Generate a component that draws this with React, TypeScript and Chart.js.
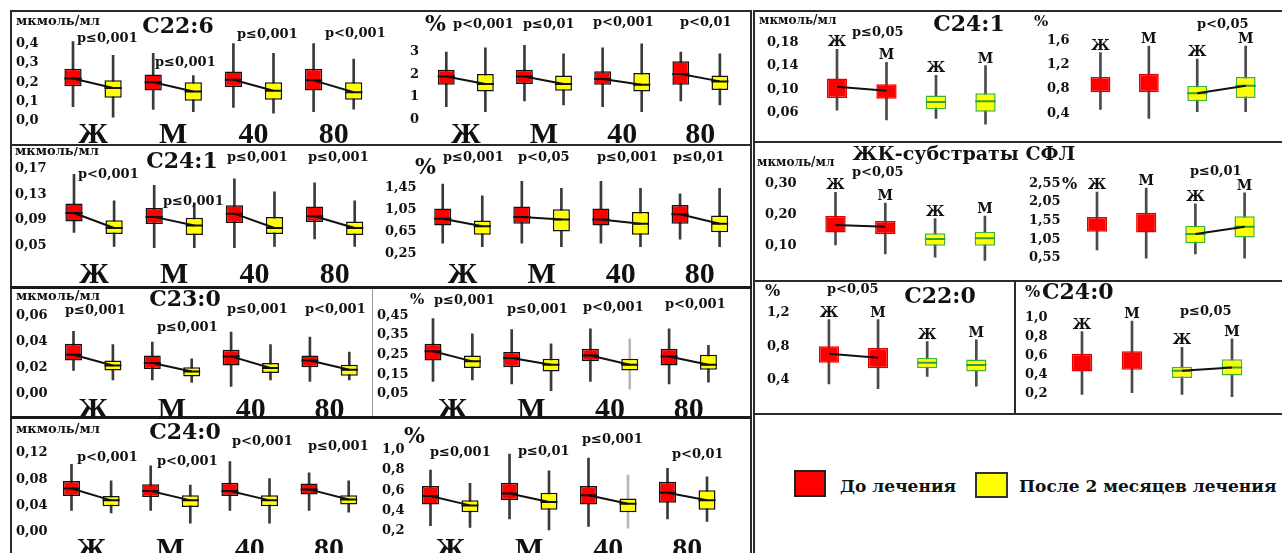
import React, { useEffect, useRef } from "react";
import { Chart, registerables } from "chart.js";

Chart.register(...registerables);

// ---------- categories / labels ----------
const leftGroups = ["Ж", "М", "40", "80"];
const leftSlots = ["Ж до", "Ж после", "М до", "М после", "40 до", "40 после", "80 до", "80 после"];
const leftKinds = ["before", "after", "before", "after", "before", "after", "before", "after"];
const rightSlots = ["Ж до", "М до", "Ж после", "М после"];
const rightSlotLabels = ["Ж", "М", "Ж", "М"];
const rightKinds = ["before", "before", "after", "after"];
const legendLabels = ["До лечения", "После 2 месяцев лечения"];
const unitLabel = "мкмоль/мл";
const pctLabel = "%";
const titleC226 = "C22:6";
const titleC241 = "C24:1";
const titleC230 = "C23:0";
const titleC240 = "C24:0";
const titleSubstr = "ЖК-субстраты СФЛ";
const titleC220 = "C22:0";

// ---------- series: [min, q1, median, q3, max] per slot ----------
const c226Abs = [
  [0.074, 0.18, 0.22, 0.27, 0.41], [0.02, 0.12, 0.17, 0.21, 0.34],
  [0.06, 0.157, 0.2, 0.24, 0.35], [0.048, 0.104, 0.152, 0.2, 0.235],
  [0.07, 0.174, 0.213, 0.256, 0.4], [0.04, 0.109, 0.156, 0.2, 0.35],
  [0.048, 0.157, 0.21, 0.27, 0.4], [0.061, 0.109, 0.148, 0.2, 0.32],
];
const c226Pct = [
  [0.56, 1.54, 1.91, 2.21, 3.0], [0.34, 1.24, 1.57, 2.02, 3.19],
  [0.82, 1.57, 1.91, 2.21, 3.3], [0.64, 1.27, 1.57, 1.95, 2.92],
  [0.56, 1.54, 1.8, 2.14, 3.19], [0.34, 1.24, 1.54, 2.06, 3.37],
  [0.82, 1.54, 2.02, 2.59, 3.0], [0.64, 1.31, 1.69, 1.95, 2.92],
];
const c241Abs = [
  [0.071, 0.088, 0.101, 0.116, 0.161], [0.049, 0.0685, 0.0777, 0.0896, 0.12],
  [0.047, 0.084, 0.095, 0.109, 0.144], [0.047, 0.067, 0.0817, 0.0935, 0.117],
  [0.047, 0.0856, 0.1, 0.113, 0.154], [0.049, 0.0685, 0.0777, 0.0948, 0.134],
  [0.0606, 0.087, 0.096, 0.111, 0.148], [0.049, 0.067, 0.0777, 0.088, 0.12],
];
const c241Pct = [
  [0.435, 0.757, 0.88, 1.065, 1.51], [0.373, 0.588, 0.742, 0.85, 1.296],
  [0.435, 0.79, 0.91, 1.1, 1.56], [0.373, 0.65, 0.865, 1.05, 1.43],
  [0.435, 0.757, 0.865, 1.065, 1.56], [0.373, 0.588, 0.788, 1.0, 1.43],
  [0.51, 0.79, 0.96, 1.127, 1.33], [0.373, 0.635, 0.788, 0.94, 1.43],
];
const c230Abs = [
  [0.0179, 0.0255, 0.03, 0.0383, 0.0479], [0.0108, 0.0179, 0.0217, 0.0255, 0.0377],
  [0.0108, 0.0191, 0.0236, 0.0294, 0.0396], [0.0089, 0.0134, 0.0172, 0.0204, 0.0268],
  [0.0057, 0.0217, 0.0287, 0.0338, 0.0472], [0.0108, 0.016, 0.0198, 0.0236, 0.0377],
  [0.0096, 0.0204, 0.0255, 0.0294, 0.0434], [0.0108, 0.014, 0.0185, 0.0223, 0.0319],
];
const c230Pct = [
  [0.114, 0.22, 0.267, 0.305, 0.433], [0.122, 0.182, 0.216, 0.246, 0.356],
  [0.101, 0.186, 0.233, 0.263, 0.378], [0.067, 0.165, 0.199, 0.229, 0.305],
  [0.114, 0.216, 0.246, 0.28, 0.382], [0.075, 0.17, 0.199, 0.229, 0.33],
  [0.101, 0.195, 0.241, 0.28, 0.382], [0.11, 0.173, 0.199, 0.25, 0.297],
];
const c240Abs = [
  [0.0323, 0.0542, 0.0658, 0.0774, 0.103], [0.0284, 0.0387, 0.0477, 0.0542, 0.0774],
  [0.0323, 0.0529, 0.0619, 0.0723, 0.1006], [0.0129, 0.0374, 0.0477, 0.0555, 0.071],
  [0.0323, 0.0542, 0.0619, 0.0748, 0.107], [0.0129, 0.0387, 0.0477, 0.0555, 0.081],
  [0.0323, 0.0568, 0.0645, 0.0735, 0.09], [0.0297, 0.0413, 0.049, 0.0555, 0.0774],
];
const c240Pct = [
  [0.25, 0.458, 0.542, 0.642, 0.8], [0.233, 0.383, 0.45, 0.5, 0.667],
  [0.317, 0.5, 0.567, 0.675, 0.958], [0.208, 0.408, 0.483, 0.575, 0.792],
  [0.242, 0.458, 0.55, 0.642, 0.917], [0.225, 0.383, 0.467, 0.517, 0.75],
  [0.317, 0.475, 0.575, 0.683, 0.817], [0.292, 0.408, 0.5, 0.6, 0.733],
];
const sexC241Abs = [
  [0.064, 0.085, 0.1046, 0.1186, 0.169], [0.0474, 0.0837, 0.0977, 0.1088, 0.1465],
  [0.05, 0.0656, 0.0781, 0.0893, 0.124], [0.04, 0.0614, 0.0795, 0.0935, 0.141],
];
const sexC241Pct = [
  [0.467, 0.747, 0.85, 1.0, 1.4], [0.32, 0.747, 0.9, 1.053, 1.507],
  [0.427, 0.6, 0.733, 0.853, 1.293], [0.427, 0.653, 0.853, 1.0, 1.507],
];
const sexSubstrAbs = [
  [0.1027, 0.1427, 0.1667, 0.196, 0.273], [0.0733, 0.1373, 0.1613, 0.18, 0.2387],
  [0.0627, 0.1, 0.1213, 0.14, 0.188], [0.052, 0.1, 0.124, 0.1453, 0.196],
];
const sexSubstrPct = [
  [0.77, 1.25, 1.45, 1.65, 2.31], [0.55, 1.23, 1.5, 1.76, 2.42],
  [0.66, 0.946, 1.19, 1.41, 2.0], [0.55, 1.1, 1.385, 1.67, 2.29],
];
const sexC220Pct = [
  [0.351, 0.605, 0.712, 0.8, 1.122], [0.293, 0.537, 0.663, 0.78, 1.122],
  [0.44, 0.537, 0.605, 0.663, 0.858], [0.322, 0.498, 0.576, 0.644, 0.878],
];
const sexC240Pct = [
  [0.19, 0.433, 0.53, 0.622, 0.855], [0.209, 0.45, 0.55, 0.648, 0.967],
  [0.19, 0.364, 0.441, 0.484, 0.69], [0.166, 0.39, 0.476, 0.562, 0.778],
];

// ---------- p-values ----------
const c226AbsP = ["p≤0,001", "p≤0,001", "p≤0,001", "p<0,001"];
const c226PctP = ["p<0,001", "p≤0,01", "p<0,001", "p<0,01"];
const c241AbsP = ["p<0,001", "p≤0,001", "p≤0,001", "p≤0,001"];
const c241PctP = ["p≤0,001", "p<0,05", "p≤0,001", "p≤0,01"];
const c230AbsP = ["p≤0,001", "p≤0,001", "p≤0,001", "p<0,001"];
const c230PctP = ["p≤0,001", "p≤0,001", "p<0,001", "p<0,001"];
const c240AbsP = ["p<0,001", "p<0,001", "p<0,001", "p≤0,001"];
const c240PctP = ["p≤0,001", "p≤0,01", "p≤0,001", "p<0,01"];
const sexC241AbsP = ["p≤0,05"];
const sexC241PctP = ["p<0,05"];
const sexSubstrAbsP = ["p<0,05"];
const sexSubstrPctP = ["p≤0,01"];
const sexC220PctP = ["p<0,05"];
const sexC240PctP = ["p≤0,05"];

// ---------- tick values / labels ----------
const c226AbsTicks = [0, 0.1, 0.2, 0.3, 0.4];
const c226AbsTickLabels = ["0,0", "0,1", "0,2", "0,3", "0,4"];
const c226PctTicks = [0, 1, 2, 3];
const c226PctTickLabels = ["0", "1", "2", "3"];
const c241AbsTicks = [0.05, 0.09, 0.13, 0.17];
const c241AbsTickLabels = ["0,05", "0,09", "0,13", "0,17"];
const c241PctTicks = [0.25, 0.65, 1.05, 1.45];
const c241PctTickLabels = ["0,25", "0,65", "1,05", "1,45"];
const c230AbsTicks = [0, 0.02, 0.04, 0.06];
const c230AbsTickLabels = ["0,00", "0,02", "0,04", "0,06"];
const c230PctTicks = [0.05, 0.15, 0.25, 0.35, 0.45];
const c230PctTickLabels = ["0,05", "0,15", "0,25", "0,35", "0,45"];
const c240AbsTicks = [0, 0.04, 0.08, 0.12];
const c240AbsTickLabels = ["0,00", "0,04", "0,08", "0,12"];
const c240PctTicks = [0.2, 0.4, 0.6, 0.8, 1.0];
const c240PctTickLabels = ["0,2", "0,4", "0,6", "0,8", "1,0"];
const sexC241AbsTicks = [0.06, 0.1, 0.14, 0.18];
const sexC241AbsTickLabels = ["0,06", "0,10", "0,14", "0,18"];
const sexC241PctTicks = [0.4, 0.8, 1.2, 1.6];
const sexC241PctTickLabels = ["0,4", "0,8", "1,2", "1,6"];
const sexSubstrAbsTicks = [0.1, 0.2, 0.3];
const sexSubstrAbsTickLabels = ["0,10", "0,20", "0,30"];
const sexSubstrPctTicks = [0.55, 1.05, 1.55, 2.05, 2.55];
const sexSubstrPctTickLabels = ["0,55", "1,05", "1,55", "2,05", "2,55"];
const sexC220PctTicks = [0.4, 0.8, 1.2];
const sexC220PctTickLabels = ["0,4", "0,8", "1,2"];
const sexC240PctTicks = [0.2, 0.4, 0.6, 0.8, 1.0];
const sexC240PctTickLabels = ["0,2", "0,4", "0,6", "0,8", "1,0"];

// ---------- layout ----------
const FONT = '"DejaVu Serif", serif';
const GROUP_FONT = '"Liberation Serif", serif';
const leftLinks: [number, number][] = [[0, 1], [2, 3], [4, 5], [6, 7]];

interface TextItem { t: string; x: number; y: number; size: number; align?: CanvasTextAlign; family?: string }
interface PanelSpec {
  box: [number, number, number, number];
  labelX: number;
  c0: number;
  s: number;
  cal: [number, number, number, number];
  slots: string[];
  kinds: string[];
  data: number[][];
  ticks: number[];
  tickLabels: string[];
  links: [number, number][];
  side: "left" | "right";
  texts: TextItem[];
  groupLabels?: string[];
  groupY?: number;
  slotLabels?: string[];
  dim?: number[];
}

const pTexts = (labels: string[], pos: [number, number][]): TextItem[] =>
  labels.map((t, i) => ({ t, x: pos[i][0], y: pos[i][1], size: 13 }));

const panels: PanelSpec[] = [
  {
    box: [12, 12, 400, 145], labelX: 16, c0: 73, s: 40.1, cal: [0, 129, 0.4, 37],
    slots: leftSlots, kinds: leftKinds, data: c226Abs, ticks: c226AbsTicks, tickLabels: c226AbsTickLabels,
    links: leftLinks, side: "left", groupLabels: leftGroups, groupY: 143,
    texts: [
      { t: unitLabel, x: 16, y: 22, size: 13 },
      { t: titleC226, x: 178, y: 27, size: 22, align: "center" },
      ...pTexts(c226AbsP, [[77, 39], [155, 63], [237, 35], [325, 34]]),
    ],
  },
  {
    box: [376, 12, 750, 145], labelX: 410, c0: 446.7, s: 39.9, cal: [0, 127, 3, 47],
    slots: leftSlots, kinds: leftKinds, data: c226Pct, ticks: c226PctTicks, tickLabels: c226PctTickLabels,
    links: leftLinks, side: "left", groupLabels: leftGroups, groupY: 143,
    texts: [
      { t: pctLabel, x: 425, y: 25, size: 22 },
      ...pTexts(c226PctP, [[453, 25], [523, 25], [593, 23], [680, 23]]),
    ],
  },
  {
    box: [12, 147, 400, 287], labelX: 15, c0: 74, s: 40.1, cal: [0.05, 251, 0.17, 160],
    slots: leftSlots, kinds: leftKinds, data: c241Abs, ticks: c241AbsTicks, tickLabels: c241AbsTickLabels,
    links: leftLinks, side: "left", groupLabels: leftGroups, groupY: 283,
    texts: [
      { t: unitLabel, x: 15, y: 152, size: 13 },
      { t: titleC241, x: 182, y: 162, size: 22, align: "center" },
      ...pTexts(c241AbsP, [[78, 175], [163, 202], [227, 158], [308, 158]]),
    ],
  },
  {
    box: [376, 147, 750, 287], labelX: 385, c0: 443, s: 40.1, cal: [0.25, 260, 1.45, 182],
    slots: leftSlots, kinds: leftKinds, data: c241Pct, ticks: c241PctTicks, tickLabels: c241PctTickLabels,
    links: leftLinks, side: "left", groupLabels: leftGroups, groupY: 283,
    texts: [
      { t: pctLabel, x: 415, y: 168, size: 22 },
      ...pTexts(c241PctP, [[443, 158], [518, 158], [597, 158], [673, 158]]),
    ],
  },
  {
    box: [12, 289, 400, 417], labelX: 16, c0: 73.5, s: 39.4, cal: [0, 402, 0.06, 308],
    slots: leftSlots, kinds: leftKinds, data: c230Abs, ticks: c230AbsTicks, tickLabels: c230AbsTickLabels,
    links: leftLinks, side: "left", groupLabels: leftGroups, groupY: 418,
    texts: [
      { t: unitLabel, x: 16, y: 297, size: 13 },
      { t: titleC230, x: 185, y: 300, size: 22, align: "center" },
      ...pTexts(c230AbsP, [[65, 311], [157, 328], [227, 310], [305, 310]]),
    ],
  },
  {
    box: [376, 289, 750, 417], labelX: 377, c0: 433, s: 39.35, cal: [0.05, 402, 0.45, 308],
    slots: leftSlots, kinds: leftKinds, data: c230Pct, ticks: c230PctTicks, tickLabels: c230PctTickLabels,
    links: leftLinks, side: "left", groupLabels: leftGroups, groupY: 418, dim: [5],
    texts: [
      { t: pctLabel, x: 410, y: 300, size: 15 },
      ...pTexts(c230PctP, [[434, 301], [507, 310], [583, 308], [665, 305]]),
    ],
  },
  {
    box: [12, 419, 400, 553], labelX: 16, c0: 71.5, s: 39.6, cal: [0, 540, 0.12, 447],
    slots: leftSlots, kinds: leftKinds, data: c240Abs, ticks: c240AbsTicks, tickLabels: c240AbsTickLabels,
    links: leftLinks, side: "left", groupLabels: leftGroups, groupY: 558,
    texts: [
      { t: unitLabel, x: 16, y: 430, size: 13 },
      { t: titleC240, x: 185, y: 433, size: 22, align: "center" },
      ...pTexts(c240AbsP, [[77, 458], [157, 462], [232, 442], [308, 447]]),
    ],
  },
  {
    box: [376, 419, 750, 553], labelX: 382, c0: 430.5, s: 39.5, cal: [0.2, 539, 1.0, 443],
    slots: leftSlots, kinds: leftKinds, data: c240Pct, ticks: c240PctTicks, tickLabels: c240PctTickLabels,
    links: leftLinks, side: "left", groupLabels: leftGroups, groupY: 558, dim: [5],
    texts: [
      { t: pctLabel, x: 404, y: 437, size: 22 },
      ...pTexts(c240PctP, [[430, 453], [518, 452], [582, 440], [672, 455]]),
    ],
  },
  {
    box: [755, 12, 1040, 141], labelX: 767, c0: 837, s: 49.5, cal: [0.06, 121, 0.18, 35],
    slots: rightSlots, kinds: rightKinds, data: sexC241Abs, ticks: sexC241AbsTicks, tickLabels: sexC241AbsTickLabels,
    links: [[0, 1]], side: "right", slotLabels: rightSlotLabels,
    texts: [
      { t: unitLabel, x: 759, y: 21, size: 12 },
      { t: titleC241, x: 969, y: 25, size: 22, align: "center" },
      ...pTexts(sexC241AbsP, [[852, 33]]),
    ],
  },
  {
    box: [1025, 12, 1282, 141], labelX: 1047, c0: 1101, s: 49.5, cal: [0.4, 122, 1.6, 32],
    slots: rightSlots, kinds: rightKinds, data: sexC241Pct, ticks: sexC241PctTicks, tickLabels: sexC241PctTickLabels,
    links: [[2, 3]], side: "right", slotLabels: rightSlotLabels,
    texts: [
      { t: pctLabel, x: 1034, y: 22, size: 15 },
      ...pTexts(sexC241PctP, [[1197, 25]]),
    ],
  },
  {
    box: [755, 144, 1080, 280], labelX: 765, c0: 835.5, s: 49.8, cal: [0.1, 253, 0.3, 178],
    slots: rightSlots, kinds: rightKinds, data: sexSubstrAbs, ticks: sexSubstrAbsTicks, tickLabels: sexSubstrAbsTickLabels,
    links: [[0, 1]], side: "right", slotLabels: rightSlotLabels,
    texts: [
      { t: unitLabel, x: 757, y: 163, size: 12 },
      { t: titleSubstr, x: 964, y: 155, size: 19, align: "center" },
      ...pTexts(sexSubstrAbsP, [[852, 173]]),
    ],
  },
  {
    box: [1020, 144, 1282, 280], labelX: 1029, c0: 1097, s: 49.2, cal: [0.55, 268, 2.55, 177],
    slots: rightSlots, kinds: rightKinds, data: sexSubstrPct, ticks: sexSubstrPctTicks, tickLabels: sexSubstrPctTickLabels,
    links: [[2, 3]], side: "right", slotLabels: rightSlotLabels,
    texts: [
      { t: pctLabel, x: 1062, y: 185, size: 16 },
      ...pTexts(sexSubstrPctP, [[1190, 172]]),
    ],
  },
  {
    box: [755, 283, 1013, 413], labelX: 767, c0: 829, s: 49.3, cal: [0.4, 387, 1.2, 305],
    slots: rightSlots, kinds: rightKinds, data: sexC220Pct, ticks: sexC220PctTicks, tickLabels: sexC220PctTickLabels,
    links: [[0, 1]], side: "right", slotLabels: rightSlotLabels,
    texts: [
      { t: pctLabel, x: 765, y: 292, size: 16 },
      { t: titleC220, x: 940, y: 297, size: 22, align: "center" },
      ...pTexts(sexC220PctP, [[827, 290]]),
    ],
  },
  {
    box: [1017, 283, 1282, 413], labelX: 1025, c0: 1082, s: 50, cal: [0.2, 404, 1.0, 311],
    slots: rightSlots, kinds: rightKinds, data: sexC240Pct, ticks: sexC240PctTicks, tickLabels: sexC240PctTickLabels,
    links: [[2, 3]], side: "right", slotLabels: rightSlotLabels,
    texts: [
      { t: pctLabel, x: 1025, y: 293, size: 16 },
      { t: titleC240, x: 1042, y: 293, size: 22 },
      ...pTexts(sexC240PctP, [[1180, 312]]),
    ],
  },
];

// frame lines: [x, y, w, h, color]
const frameLines: [number, number, number, number, string][] = [
  [10, 10, 742, 2, "#2a2a2a"],
  [10, 10, 2, 543, "#2a2a2a"],
  [750, 10, 2, 543, "#2a2a2a"],
  [10, 144, 742, 2, "#2a2a2a"],
  [10, 286, 742, 3, "#1a1a1a"],
  [10, 416, 742, 3, "#1a1a1a"],
  [753, 10, 529, 2, "#2a2a2a"],
  [753, 10, 2, 543, "#2a2a2a"],
  [753, 141, 529, 2, "#2a2a2a"],
  [753, 280, 529, 2, "#2a2a2a"],
  [753, 413, 529, 2, "#2a2a2a"],
  [1014, 280, 2, 134, "#2a2a2a"],
  [372, 289, 1, 127, "#9a9a9a"],
];

function textPlugin(spec: PanelSpec) {
  return {
    id: "panelTexts",
    afterDraw(chart: any) {
      const ctx: CanvasRenderingContext2D = chart.ctx;
      const [x0, y0] = spec.box;
      const xs = chart.scales.x;
      const ys = chart.scales.y;
      ctx.save();
      ctx.fillStyle = "#111";
      for (const t of spec.texts) {
        ctx.font = `bold ${t.size}px ${t.family ?? FONT}`;
        ctx.textAlign = t.align ?? "left";
        ctx.textBaseline = "middle";
        ctx.fillText(t.t, t.x - x0, t.y - y0);
      }
      if (spec.groupLabels && spec.groupY !== undefined) {
        ctx.font = `bold 30px ${GROUP_FONT}`;
        ctx.textAlign = "center";
        ctx.textBaseline = "alphabetic";
        spec.groupLabels.forEach((g, k) => {
          const cx = (xs.getPixelForValue(2 * k) + xs.getPixelForValue(2 * k + 1)) / 2;
          ctx.fillText(g, cx, (spec.groupY as number) - y0);
        });
      }
      if (spec.slotLabels) {
        ctx.font = `bold 14px ${FONT}`;
        ctx.textAlign = "center";
        ctx.textBaseline = "alphabetic";
        spec.slotLabels.forEach((g, i) => {
          const cx = xs.getPixelForValue(i);
          const cy = ys.getPixelForValue(spec.data[i][4]) - 3;
          ctx.fillText(g, cx, cy);
        });
      }
      ctx.restore();
    },
  };
}

function buildConfig(spec: PanelSpec): any {
  const [x0, y0, x1, y1] = spec.box;
  const n = spec.slots.length;
  const chartLeft = spec.c0 - spec.s / 2;
  const chartRight = chartLeft + n * spec.s;
  const [v0, p0, v1, p1] = spec.cal;
  const k = (v1 - v0) / (p1 - p0);
  const yMax = v0 + (y0 - p0) * k;
  const yMin = v0 + (y1 - p0) * k;
  const axisW = chartLeft - spec.labelX;
  const ratio = spec.side === "left" ? 0.43 : 0.41;
  const boxPx = ratio * spec.s;
  const left = spec.side === "left";
  const fill = (kind: string) => (kind === "before" ? "#ff0000" : "#ffff00");
  const border = (kind: string) => (left ? "#111" : kind === "before" ? "#e00000" : "#39b339");
  const med = (kind: string) => (left ? "#111" : kind === "before" ? "rgba(0,0,0,0)" : "#2fa52f");
  const linkSet = new Set(spec.links.map(([a, b]) => `${a}-${b}`));
  const linked = new Set(spec.links.flat());
  const dim = new Set(spec.dim ?? []);

  return {
    type: "bar",
    data: {
      labels: spec.slots,
      datasets: [
        {
          type: "bar",
          label: "whisker",
          data: spec.data.map((d) => [d[0], d[4]]),
          backgroundColor: spec.data.map((_d, i) => (dim.has(i) ? "#b8b8b8" : left ? "#3a3a3a" : "#4a4a4a")),
          barThickness: 2,
          grouped: false,
          order: 4,
        },
        {
          type: "bar",
          label: "box",
          data: spec.data.map((d) => [d[1], d[3]]),
          backgroundColor: spec.kinds.map(fill),
          borderColor: spec.kinds.map(border),
          borderWidth: 1.5,
          borderSkipped: false,
          grouped: false,
          barPercentage: ratio,
          categoryPercentage: 1,
          order: 3,
        },
        {
          type: "line",
          label: "median",
          data: spec.data.map((d) => d[2]),
          showLine: false,
          pointStyle: "line",
          pointRadius: boxPx / 2,
          pointBorderWidth: 2,
          pointBorderColor: spec.kinds.map(med),
          pointBackgroundColor: "rgba(0,0,0,0)",
          order: 2,
        },
        {
          type: "line",
          label: "link",
          data: spec.data.map((d, i) => (linked.has(i) ? d[2] : null)),
          pointRadius: 0,
          borderWidth: 2,
          borderColor: "#111",
          spanGaps: false,
          segment: {
            borderColor: (c: any) => (linkSet.has(`${c.p0DataIndex}-${c.p1DataIndex}`) ? "#111" : "rgba(0,0,0,0)"),
          },
          order: 1,
        },
      ],
    },
    options: {
      responsive: false,
      animation: false,
      devicePixelRatio: 1,
      events: [],
      layout: { padding: { left: spec.labelX - x0, right: x1 - chartRight, top: 0, bottom: 0 } },
      plugins: { legend: { display: false }, tooltip: { enabled: false } },
      scales: {
        x: { type: "category", display: false, offset: true, grid: { display: false } },
        y: {
          type: "linear",
          min: yMin,
          max: yMax,
          grid: { display: false, drawTicks: false },
          border: { display: false },
          ticks: {
            autoSkip: false,
            crossAlign: "far",
            padding: 0,
            color: "#111",
            font: { family: FONT, weight: "bold", size: 13 },
            callback: (_v: any, i: number) => spec.tickLabels[i] ?? "",
          },
          afterBuildTicks: (sc: any) => {
            sc.ticks = spec.ticks.map((v) => ({ value: v }));
          },
          afterFit: (sc: any) => {
            sc.width = axisW;
            sc.paddingTop = 0;
            sc.paddingBottom = 0;
          },
        },
      },
    },
    plugins: [textPlugin(spec)],
  };
}

function Panel({ spec }: { spec: PanelSpec }) {
  const ref = useRef<HTMLCanvasElement>(null);
  const [x0, y0, x1, y1] = spec.box;
  const w = x1 - x0;
  const h = y1 - y0;
  useEffect(() => {
    if (!ref.current) return;
    const chart = new Chart(ref.current, buildConfig(spec));
    return () => chart.destroy();
  }, [spec]);
  return (
    <canvas
      ref={ref}
      width={w}
      height={h}
      style={{ position: "absolute", left: x0, top: y0, width: w, height: h }}
    />
  );
}

export default function App() {
  return (
    <div
      style={{
        position: "fixed",
        left: 0,
        top: 0,
        width: 1282,
        height: 553,
        overflow: "hidden",
        background: "#fff",
      }}
    >
      {frameLines.map((f, i) => (
        <div
          key={i}
          style={{ position: "absolute", left: f[0], top: f[1], width: f[2], height: f[3], background: f[4] }}
        />
      ))}
      {panels.map((p, i) => (
        <Panel key={i} spec={p} />
      ))}
      <div
        style={{
          position: "absolute",
          left: 794,
          top: 470,
          width: 28,
          height: 23,
          background: "#ff0000",
          border: "2px solid #222",
        }}
      />
      <div
        style={{
          position: "absolute",
          left: 840,
          top: 474,
          font: `bold 17px ${FONT}`,
          lineHeight: "24px",
          whiteSpace: "nowrap",
          color: "#111",
        }}
      >
        {legendLabels[0]}
      </div>
      <div
        style={{
          position: "absolute",
          left: 975,
          top: 472,
          width: 29,
          height: 22,
          background: "#ffff00",
          border: "2px solid #333",
        }}
      />
      <div
        style={{
          position: "absolute",
          left: 1019,
          top: 474,
          font: `bold 17px ${FONT}`,
          lineHeight: "24px",
          whiteSpace: "nowrap",
          color: "#111",
        }}
      >
        {legendLabels[1]}
      </div>
    </div>
  );
}
